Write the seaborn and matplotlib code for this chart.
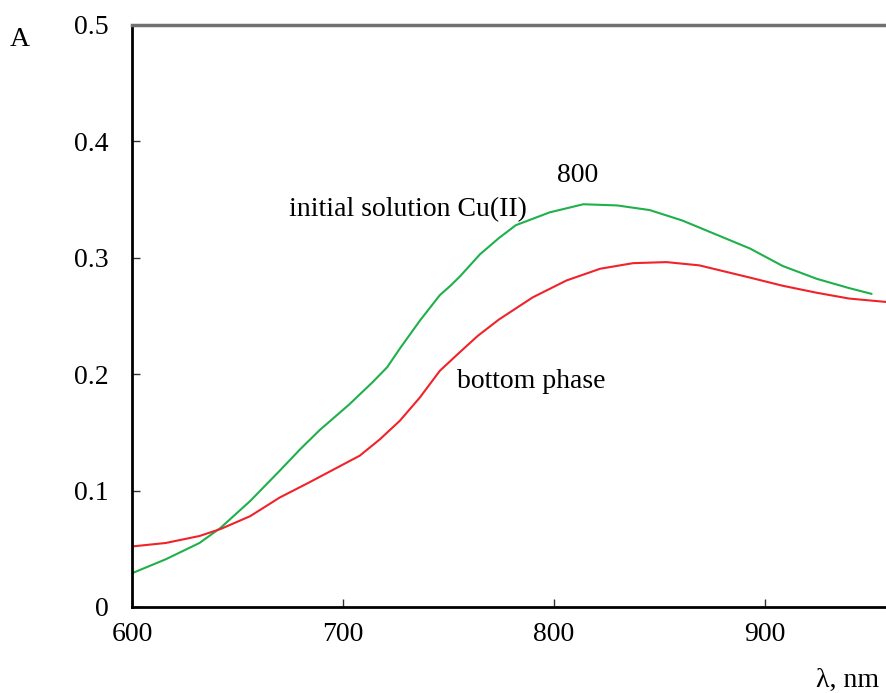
import numpy as np
import pandas as pd
import matplotlib
matplotlib.use("Agg")
import matplotlib.pyplot as plt
import seaborn as sns

# Initial solution Cu(II) (green)
wl_initial = [600, 616, 632, 642, 656, 670, 680, 689, 703, 714, 721, 727, 736.5,
              746, 751, 755.5, 765, 774, 782, 798, 814, 830, 845.5, 861, 877,
              893, 908.5, 924.6, 940, 950.7]
abs_initial = [0.029, 0.041, 0.055, 0.068, 0.091, 0.117, 0.136, 0.152, 0.174,
               0.193, 0.206, 0.222, 0.246, 0.268, 0.276, 0.284, 0.303, 0.317,
               0.328, 0.339, 0.346, 0.345, 0.341, 0.332, 0.320, 0.308, 0.293,
               0.282, 0.274, 0.269]

# Bottom phase (red)
wl_bottom = [600, 616, 632, 642, 656, 670, 684, 698.6, 708, 717.5, 727, 736.5,
             746, 755.5, 764, 774, 790, 806, 822, 837.6, 853.4, 869, 877, 893,
             908.5, 924.6, 940, 958]
abs_bottom = [0.052, 0.055, 0.061, 0.067, 0.078, 0.094, 0.107, 0.121, 0.130,
              0.144, 0.160, 0.180, 0.203, 0.219, 0.233, 0.247, 0.266, 0.2805,
              0.2906, 0.2954, 0.2963, 0.2935, 0.290, 0.283, 0.276, 0.270,
              0.265, 0.262]

x_ticks = [600, 700, 800, 900]
y_ticks = [0, 0.1, 0.2, 0.3, 0.4, 0.5]
y_tick_labels = ["0", "0.1", "0.2", "0.3", "0.4", "0.5"]

sns.set_theme(style="white")
plt.rcParams['font.family'] = ['Liberation Serif', 'DejaVu Serif']
plt.rcParams['text.color'] = 'black'

W, H = 887, 693
fig = plt.figure(figsize=(W / 100, H / 100), dpi=100)
ax = fig.add_axes([132 / W, 1 - 607 / H, (887 - 132) / W, (607 - 25) / H])

df_i = pd.DataFrame({"wl": wl_initial, "A": abs_initial})
df_b = pd.DataFrame({"wl": wl_bottom, "A": abs_bottom})
sns.lineplot(data=df_i, x="wl", y="A", ax=ax, color="#1fb04b", linewidth=1.5)
sns.lineplot(data=df_b, x="wl", y="A", ax=ax, color="#f0222a", linewidth=1.5)

ax.set_xlim(600, 958)
ax.set_ylim(0, 0.5)
ax.set_xticks(x_ticks)
ax.set_xticklabels([str(v) for v in x_ticks])
ax.set_yticks(y_ticks)
ax.set_yticklabels(y_tick_labels)
ax.set_xlabel("")
ax.set_ylabel("")

for s in ["left", "bottom"]:
    ax.spines[s].set_color("black")
    ax.spines[s].set_linewidth(2)
ax.spines["top"].set_color("#707070")
ax.spines["top"].set_linewidth(2.5)
ax.spines["right"].set_visible(False)

ax.tick_params(axis="both", direction="in", length=6, width=1, color="#333333",
               labelsize=20, labelcolor="black")
ax.tick_params(axis="y", pad=17, left=True)
ax.tick_params(axis="x", pad=11, bottom=True)

fig.text(20 / W, 1 - 40 / H, "A", fontsize=20, ha="center", va="center")
fig.text(848 / W, 1 - 680 / H, "λ, nm", fontsize=20, ha="center", va="center")
fig.text(289 / W, 1 - 210 / H, "initial solution Cu(II)", fontsize=20, ha="left", va="center")
fig.text(457 / W, 1 - 382 / H, "bottom phase", fontsize=20, ha="left", va="center")
fig.text(578 / W, 1 - 175 / H, "800", fontsize=20, ha="center", va="center")

fig.savefig("out.png", dpi=100, facecolor="white")
